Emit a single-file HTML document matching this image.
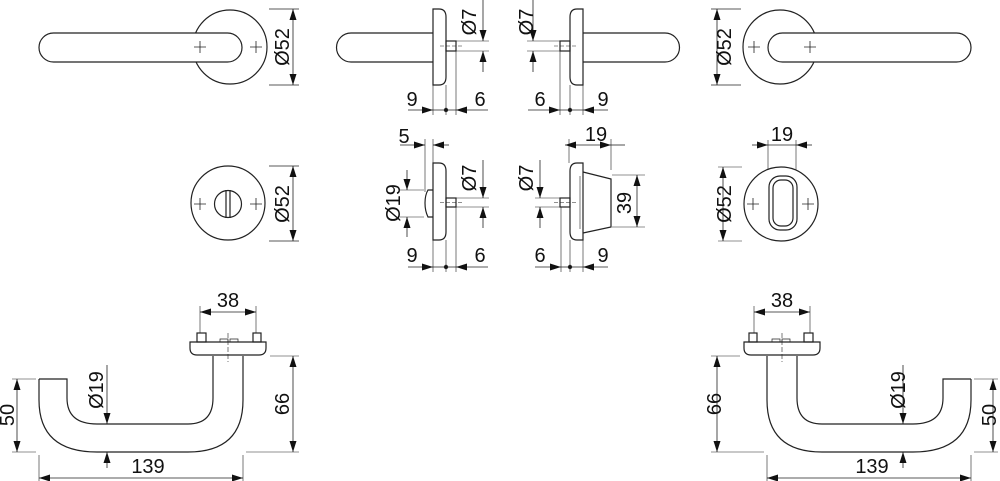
<!DOCTYPE html>
<html><head><meta charset="utf-8"><style>
html,body{margin:0;padding:0;background:#fff}
svg{display:block}
text{font-family:"Liberation Sans",Arial,sans-serif;font-size:20px;fill:#111}
</style></head><body>
<svg width="1000" height="481" viewBox="0 0 1000 481" xmlns="http://www.w3.org/2000/svg">
<defs>
<marker id="a" markerUnits="userSpaceOnUse" markerWidth="12" markerHeight="8" refX="11" refY="4" orient="auto-start-reverse"><path d="M0,0.5 L11,4 L0,7.5Z" fill="#111"/></marker>
</defs>
<g fill="none" stroke="#222" stroke-width="1.2">
<g id="roseL">
 <circle cx="230" cy="47" r="37"/>
 <rect x="39" y="33" width="203" height="29" rx="14.5" fill="#fff"/>
 <path d="M194,47h12M200,41v12M250,47h12M256,41v12" stroke-width="0.8"/>
 <path d="M269,9h30M269,85h30" stroke-width="0.7"/>
 <line x1="293" y1="9" x2="293" y2="85" stroke-width="0.8" marker-start="url(#a)" marker-end="url(#a)"/>
</g>
<use href="#roseL" transform="translate(1010,0) scale(-1,1)"/>

<g id="sideL">
 <path d="M433,33H351A14.5,14.5 0 0 0 351,62H433"/>
 <path d="M433,9H439Q446,9 446,17V77Q446,85 439,85H433Z"/>
 <rect x="446" y="41" width="10" height="10"/>
 <path d="M440,46H462" stroke-dasharray="4,2" stroke-width="0.6"/>
 <path d="M456,41H489M456,51H489" stroke-width="0.6"/>
 <line x1="483" y1="0" x2="483" y2="41" stroke-width="0.8" marker-end="url(#a)"/>
 <line x1="483" y1="72" x2="483" y2="51" stroke-width="0.8" marker-end="url(#a)"/>
 <path d="M433,85V115M446,85V115M456,51V115" stroke-width="0.6"/>
 <line x1="408" y1="110" x2="433" y2="110" stroke-width="0.8" marker-end="url(#a)"/>
 <line x1="488" y1="110" x2="456" y2="110" stroke-width="0.8" marker-end="url(#a)"/>
 <path d="M433,110H456" stroke-width="0.8"/>
 <circle cx="446" cy="110" r="1.6" fill="#111"/>
</g>
<use href="#sideL" transform="translate(1016,0) scale(-1,1)"/>

<g id="handleL">
 <path d="M39,379H67V398Q67,424 97,424H188Q213,424 213,398V356"/>
 <path d="M39,379V400Q39,452 97,452H188Q243,452 243,400V356"/>
 <path d="M190,342H266V348Q266,355 259,355H197Q190,355 190,348Z" fill="#fff"/>
 <rect x="197" y="333" width="9" height="9"/>
 <rect x="253" y="333" width="8" height="9"/>
 <path d="M220,342v-3h8v3M230,342v-3h8v3" stroke-width="0.7"/>
 <path d="M228,333V362" stroke-dasharray="5,2" stroke-width="0.6"/>
 <path d="M200,306V333M256,306V333" stroke-width="0.6"/>
 <line x1="200" y1="312" x2="256" y2="312" stroke-width="0.8" marker-start="url(#a)" marker-end="url(#a)"/>
 <path d="M270,356H299M246,452H299" stroke-width="0.6"/>
 <line x1="293" y1="356" x2="293" y2="452" stroke-width="0.8" marker-start="url(#a)" marker-end="url(#a)"/>
 <path d="M12,379H36M12,452H36" stroke-width="0.6"/>
 <line x1="17" y1="379" x2="17" y2="452" stroke-width="0.8" marker-start="url(#a)" marker-end="url(#a)"/>
 <line x1="107" y1="365" x2="107" y2="424" stroke-width="0.8" marker-end="url(#a)"/>
 <line x1="107" y1="468" x2="107" y2="452" stroke-width="0.8" marker-end="url(#a)"/>
 <path d="M39,455V481M243,455V481" stroke-width="0.6"/>
 <line x1="39" y1="478" x2="243" y2="478" stroke-width="0.8" marker-start="url(#a)" marker-end="url(#a)"/>
</g>
<use href="#handleL" transform="translate(1010,0) scale(-1,1)"/>

<circle cx="228" cy="203" r="37"/>
<circle cx="228" cy="204" r="13.5"/>
<path d="M226,190V218M230,190V218"/>
<path d="M194,204h12M200,198v12M250,204h12M256,198v12" stroke-width="0.8"/>
<path d="M269,166h30M269,241h30" stroke-width="0.7"/>
<line x1="293" y1="166" x2="293" y2="241" stroke-width="0.8" marker-start="url(#a)" marker-end="url(#a)"/>

<circle cx="781" cy="204" r="37"/>
<rect x="769" y="176" width="28" height="54" rx="11"/>
<rect x="773" y="180" width="20" height="46" rx="8"/>
<path d="M747,204h12M753,198v12M802,204h12M808,198v12" stroke-width="0.8"/>
<path d="M768,140V170M796,140V170" stroke-width="0.6"/>
<line x1="752" y1="145" x2="768" y2="145" stroke-width="0.8" marker-end="url(#a)"/>
<line x1="812" y1="145" x2="796" y2="145" stroke-width="0.8" marker-end="url(#a)"/>
<path d="M768,145H796" stroke-width="0.8"/>
<path d="M718,167h24M718,241h24" stroke-width="0.6"/>
<line x1="723" y1="167" x2="723" y2="241" stroke-width="0.8" marker-start="url(#a)" marker-end="url(#a)"/>

<path d="M433,163H439Q446,163 446,171V232Q446,240 439,240H433Z"/>
<path d="M433,190H428Q425,195 425,203Q425,211 428,217H433"/>
<rect x="446" y="198" width="10" height="9"/>
<path d="M440,202.5H462" stroke-dasharray="4,2" stroke-width="0.6"/>
<path d="M456,198H489M456,207H489" stroke-width="0.6"/>
<line x1="483" y1="160" x2="483" y2="198" stroke-width="0.8" marker-end="url(#a)"/>
<line x1="483" y1="228" x2="483" y2="207" stroke-width="0.8" marker-end="url(#a)"/>
<path d="M425,139V192M433,139V163" stroke-width="0.6"/>
<line x1="400" y1="145" x2="425" y2="145" stroke-width="0.8" marker-end="url(#a)"/>
<line x1="449" y1="145" x2="433" y2="145" stroke-width="0.8" marker-end="url(#a)"/>
<path d="M400,190H424M400,217H424" stroke-width="0.6"/>
<line x1="407" y1="170" x2="407" y2="190" stroke-width="0.8" marker-end="url(#a)"/>
<line x1="407" y1="237" x2="407" y2="217" stroke-width="0.8" marker-end="url(#a)"/>
<path d="M433,240V272M446,240V272M456,207V272" stroke-width="0.6"/>
<line x1="408" y1="267" x2="433" y2="267" stroke-width="0.8" marker-end="url(#a)"/>
<line x1="488" y1="267" x2="456" y2="267" stroke-width="0.8" marker-end="url(#a)"/>
<path d="M433,267H456" stroke-width="0.8"/>
<circle cx="446" cy="267" r="1.6" fill="#111"/>

<path d="M583,163H577Q570,163 570,171V232Q570,240 577,240H583Z"/>
<path d="M583,172L611,179V227L583,233"/>
<path d="M580,176V229" stroke-width="0.6"/>
<rect x="560" y="198" width="10" height="9"/>
<path d="M554,202.5H576" stroke-dasharray="4,2" stroke-width="0.6"/>
<path d="M535,198H560M535,207H560" stroke-width="0.6"/>
<line x1="540" y1="160" x2="540" y2="198" stroke-width="0.8" marker-end="url(#a)"/>
<line x1="540" y1="228" x2="540" y2="207" stroke-width="0.8" marker-end="url(#a)"/>
<path d="M569,139V163M611,139V170" stroke-width="0.6"/>
<line x1="565" y1="145" x2="611" y2="145" stroke-width="0.8" marker-start="url(#a)" marker-end="url(#a)"/>
<path d="M611,145H625" stroke-width="0.8"/>
<path d="M612,175H645M612,227H645" stroke-width="0.6"/>
<line x1="637" y1="175" x2="637" y2="227" stroke-width="0.8" marker-start="url(#a)" marker-end="url(#a)"/>
<path d="M561,207V272M570,240V272M583,240V272" stroke-width="0.6"/>
<line x1="535" y1="267" x2="561" y2="267" stroke-width="0.8" marker-end="url(#a)"/>
<line x1="608" y1="267" x2="583" y2="267" stroke-width="0.8" marker-end="url(#a)"/>
<path d="M561,267H583" stroke-width="0.8"/>
<circle cx="570" cy="267" r="1.6" fill="#111"/>
</g>

<text transform="translate(289,47) rotate(-90)" text-anchor="middle">Ø52</text>
<text transform="translate(731,47) rotate(-90)" text-anchor="middle">Ø52</text>
<text transform="translate(476,22) rotate(-90)" text-anchor="middle">Ø7</text>
<text transform="translate(533,22) rotate(-90)" text-anchor="middle">Ø7</text>
<text x="412" y="106" text-anchor="middle">9</text>
<text x="480" y="106" text-anchor="middle">6</text>
<text x="540" y="106" text-anchor="middle">6</text>
<text x="603" y="106" text-anchor="middle">9</text>

<text x="404" y="143" text-anchor="middle">5</text>
<text transform="translate(476,178) rotate(-90)" text-anchor="middle">Ø7</text>
<text transform="translate(400,203) rotate(-90)" text-anchor="middle">Ø19</text>
<text x="412" y="262" text-anchor="middle">9</text>
<text x="480" y="262" text-anchor="middle">6</text>
<text x="596" y="141" text-anchor="middle">19</text>
<text transform="translate(533,178) rotate(-90)" text-anchor="middle">Ø7</text>
<text transform="translate(631,203) rotate(-90)" text-anchor="middle">39</text>
<text x="540" y="262" text-anchor="middle">6</text>
<text x="603" y="262" text-anchor="middle">9</text>
<text transform="translate(289,204) rotate(-90)" text-anchor="middle">Ø52</text>
<text x="782" y="141" text-anchor="middle">19</text>
<text transform="translate(731,204) rotate(-90)" text-anchor="middle">Ø52</text>

<text x="228" y="307" text-anchor="middle">38</text>
<text x="782" y="307" text-anchor="middle">38</text>
<text transform="translate(289,404) rotate(-90)" text-anchor="middle">66</text>
<text transform="translate(721,404) rotate(-90)" text-anchor="middle">66</text>
<text transform="translate(14,415) rotate(-90)" text-anchor="middle">50</text>
<text transform="translate(996,415) rotate(-90)" text-anchor="middle">50</text>
<text transform="translate(103,390) rotate(-90)" text-anchor="middle">Ø19</text>
<text transform="translate(905,390) rotate(-90)" text-anchor="middle">Ø19</text>
<text x="148" y="473" text-anchor="middle">139</text>
<text x="872" y="473" text-anchor="middle">139</text>
</svg>
</body></html>
